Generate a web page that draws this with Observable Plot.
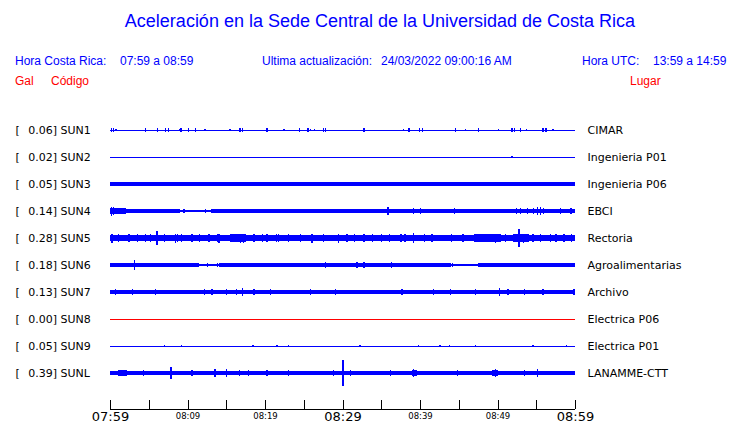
<!DOCTYPE html>
<html><head><meta charset="utf-8">
<script src="https://cdn.jsdelivr.net/npm/d3@7"></script>
<script src="https://cdn.jsdelivr.net/npm/@observablehq/plot@0.6"></script>
<style>
body{margin:0;background:#fff;width:740px;height:423px;overflow:hidden;font-family:"Liberation Sans",Arial,sans-serif}
#head{position:relative;height:95px}
.t{position:absolute;white-space:pre;line-height:1;font-size:12px;color:#0000ff}
.r{color:#ff0000}
#chart svg{display:block;shape-rendering:crispEdges}
</style></head><body>
<div id="head">
  <div class="t" style="left:0;width:760px;text-align:center;top:12px;font-size:18px">Aceleración en la Sede Central de la Universidad de Costa Rica</div>
  <div class="t" style="left:15px;top:55px">Hora Costa Rica:</div>
  <div class="t" style="left:120px;top:55px">07:59 a 08:59</div>
  <div class="t" style="left:262px;top:55px">Ultima actualización:</div>
  <div class="t" style="left:381px;top:55px">24/03/2022 09:00:16 AM</div>
  <div class="t" style="left:582px;top:55px">Hora UTC:</div>
  <div class="t" style="left:653px;top:55px">13:59 a 14:59</div>
  <div class="t r" style="left:15px;top:75px">Gal</div>
  <div class="t r" style="left:51px;top:75px">Código</div>
  <div class="t r" style="left:630px;top:75px">Lugar</div>
</div>
<div id="chart"></div>
<script>
// Stations (codes), peak acceleration (Gal) and place names
const stations = ["SUN1","SUN2","SUN3","SUN4","SUN5","SUN6","SUN7","SUN8","SUN9","SUNL"];
const peaks = [0.06, 0.02, 0.05, 0.14, 0.28, 0.18, 0.13, 0.00, 0.05, 0.39];
const places = ["CIMAR","Ingenieria P01","Ingenieria P06","EBCI","Rectoria","Agroalimentarias","Archivo","Electrica P06","Electrica P01","LANAMME-CTT"];
const lineColors = ["blue","blue","blue","blue","blue","blue","blue","red","blue","blue"];

// Background noise level per station: [fromMinute, toMinute, half-amplitude Gal] (minutes after 07:59)
const noise = [
  [],
  [],
  [[0,60,0.05]],
  [[0,2,0.1],[2,9,0.05],[9,13,0.03],[13,52,0.05],[52,60,0.07]],
  [[0,60,0.095],[15.5,17.5,0.12],[47,50.5,0.11],[52,54,0.11]],
  [[0,11.5,0.055],[11.5,14,0.03],[14,44,0.055],[44,47.5,0.03],[47.5,60,0.055]],
  [[0,60,0.07]],
  [],
  [],
  [[0,60,0.065],[1,2.2,0.09],[39,39.6,0.09],[49.3,50,0.09]]
];

// Spikes: [minute, half-amplitude Gal]
const spikes = [
  [[0.1,0.05],[0.4,0.05],[0.7,0.04],[4.55,0.05],[6.1,0.05],[7.1,0.05],[7.5,0.05],[8.9,0.04],[9.1,0.05],[10.1,0.05],[11.0,0.05],[12.2,0.03],[15.4,0.04],[16.6,0.05],[16.8,0.06],[17.0,0.06],[20.1,0.05],[20.3,0.06],[22.4,0.04],[24.4,0.05],[25.5,0.05],[25.8,0.04],[26.3,0.04],[27.5,0.05],[27.7,0.05],[32.6,0.05],[32.8,0.05],[37.8,0.03],[38.5,0.06],[39.9,0.05],[40.3,0.05],[44.5,0.05],[45.8,0.03],[47.5,0.05],[50.1,0.03],[51.8,0.05],[52.1,0.05],[52.9,0.05],[53.7,0.03],[55.8,0.05],[56.1,0.06],[56.3,0.06],[57.1,0.04]],
  [[51.8,0.02]],
  [[10.7,0.06],[11.8,0.06],[12.3,0.06],[12.9,0.06],[14.8,0.06],[15.9,0.06],[20.0,0.06],[21.1,0.06],[23.2,0.06],[24.9,0.06],[30.3,0.06],[34.0,0.06],[34.8,0.06],[35.7,0.06],[44.7,0.06],[47.1,0.06],[48.0,0.06],[50.3,0.06],[50.7,0.06],[56.8,0.06],[58.3,0.06]],
  [[0.1,0.14],[0.4,0.12],[0.8,0.1],[1.2,0.08],[1.6,0.07],[9.5,0.06],[12.3,0.06],[14.0,0.06],[22.2,0.07],[25.2,0.06],[26.8,0.06],[35.8,0.12],[39.1,0.08],[40.0,0.08],[40.8,0.07],[44.4,0.09],[46.7,0.06],[52.4,0.08],[52.9,0.08],[53.8,0.09],[54.6,0.1],[55.1,0.12],[55.5,0.11],[55.9,0.08],[58.1,0.08],[58.5,0.07],[59.4,0.09]],
  [[0.2,0.14],[1.0,0.12],[2.4,0.12],[3.5,0.12],[4.5,0.11],[5.2,0.12],[6.0,0.21],[7.0,0.12],[8.4,0.14],[8.6,0.13],[9.2,0.12],[10.5,0.12],[11.5,0.12],[12.7,0.13],[13.8,0.12],[14.0,0.14],[15.9,0.13],[16.4,0.13],[16.8,0.14],[17.2,0.14],[18.5,0.12],[19.6,0.12],[20.2,0.12],[21.4,0.12],[21.7,0.12],[23.0,0.12],[24.5,0.12],[26.0,0.14],[27.5,0.12],[29.4,0.14],[30.5,0.12],[31.5,0.12],[32.7,0.12],[33.8,0.11],[35.0,0.11],[36.0,0.12],[37.5,0.11],[38.0,0.12],[39.1,0.17],[40.5,0.11],[41.5,0.12],[42.8,0.1],[44.0,0.11],[45.5,0.12],[47.1,0.12],[48.5,0.12],[49.7,0.14],[51.0,0.12],[52.7,0.27],[53.3,0.14],[54.5,0.12],[55.5,0.12],[56.8,0.11],[57.5,0.12],[58.5,0.11],[59.5,0.12]],
  [[3.1,0.17],[10.5,0.07],[12.5,0.06],[13.8,0.07],[19.8,0.07],[27.7,0.09],[31.8,0.08],[32.7,0.08],[36.3,0.09],[39.8,0.07],[44.1,0.05],[52.3,0.07],[55.5,0.07]],
  [[0.65,0.08],[2.8,0.08],[5.8,0.08],[12.1,0.1],[13.1,0.1],[15.0,0.1],[16.3,0.1],[17.0,0.12],[18.5,0.08],[20.6,0.08],[25.8,0.1],[29.0,0.09],[37.6,0.08],[41.7,0.08],[43.9,0.09],[47.1,0.08],[50.2,0.11],[51.3,0.09],[53.4,0.08],[55.8,0.09],[59.8,0.08]],
  [],
  [[7.0,0.03],[9.2,0.02],[18.4,0.02],[21.5,0.03],[23.0,0.02],[32.2,0.03],[39.7,0.02],[42.5,0.02],[43.7,0.02],[47.1,0.03],[54.5,0.02],[58.8,0.03]],
  [[1.5,0.1],[4.3,0.08],[7.8,0.2],[10.5,0.08],[12.0,0.07],[13.5,0.13],[15.0,0.11],[16.6,0.08],[17.8,0.08],[20.2,0.08],[23.0,0.08],[23.4,0.07],[28.8,0.08],[30.0,0.39],[31.0,0.08],[36.1,0.08],[39.1,0.12],[41.5,0.07],[44.8,0.08],[46.0,0.07],[49.7,0.12],[53.4,0.08],[55.1,0.13]]
];

// Time axis (minutes after 07:59)
const tickMinutes = [0,5,10,15,20,25,30,35,40,45,50,55,60];
const majorTicks = [0,30,60];
const majorLabels = ["07:59","08:29","08:59"];
const minorTicks = [10,20,40,50];
const minorLabels = ["08:09","08:19","08:39","08:49"];

// ---- build tables for the library ----
const GAL_PER_ROW = 0.84;       // vertical spacing of traces expressed in Gal
const AXIS_ROW = 10.3333;       // row position of time axis
const rows = stations.map((s, i) => ({row: i, code: s, peak: peaks[i], place: places[i], color: lineColors[i]}));
const bands = noise.flatMap((segs, i) => segs.map(([a, b, h]) => ({row: i, from: a, to: b, y1: i - h / GAL_PER_ROW, y2: i + h / GAL_PER_ROW})));
const spk = spikes.flatMap((list, i) => list.map(([m, h]) => ({row: i, t: m, y1: i - h / GAL_PER_ROW, y2: i + h / GAL_PER_ROW})));

const blue = "#0000ff";
const chart = Plot.plot({
  width: 740, height: 328,
  marginLeft: 110, marginRight: 165, marginTop: 8, marginBottom: 14,
  x: {domain: [0, 60], axis: null},
  y: {domain: [-1, AXIS_ROW], reverse: true, axis: null},
  style: {fontFamily: "DejaVu Sans, sans-serif", background: "white"},
  marks: [
    Plot.ruleY(rows, {y: "row", x1: 0, x2: 60, stroke: d => d.color === "red" ? "#ff0000" : blue, strokeWidth: 1}),
    Plot.rect(bands, {x1: "from", x2: "to", y1: "y1", y2: "y2", fill: blue, inset: 0}),
    Plot.ruleX(spk, {x: "t", y1: "y1", y2: "y2", stroke: blue, strokeWidth: 1.3}),
    Plot.text(rows, {y: "row", frameAnchor: "left", dx: -95, text: d => "[", textAnchor: "start", fontSize: 11, fill: "black"}),
    Plot.text(rows, {y: "row", frameAnchor: "left", dx: -82.3, text: d => `${d.peak.toFixed(2)}] ${d.code}`, textAnchor: "start", fontSize: 11, fill: "black"}),
    Plot.text(rows, {y: "row", frameAnchor: "right", dx: 12, text: "place", textAnchor: "start", fontSize: 11, fill: "black"}),
    Plot.ruleY([AXIS_ROW], {x1: 0, x2: 60, stroke: "black"}),
    Plot.ruleX(tickMinutes, {x: d => d, y1: AXIS_ROW, y2: AXIS_ROW - 9 / 27, stroke: "black"}),
    Plot.text(majorTicks, {x: d => d, y: AXIS_ROW, dy: 7, text: (d, i) => majorLabels[i], fontSize: 13, fill: "black"}),
    Plot.text(minorTicks, {x: d => d, y: AXIS_ROW, dy: 6.5, text: (d, i) => minorLabels[i], fontSize: 8.5, fill: "black"})
  ]
});
document.getElementById("chart").append(chart);
</script>
</body></html>
